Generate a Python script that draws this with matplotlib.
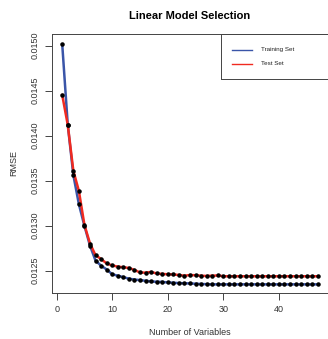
import numpy as np
import matplotlib
matplotlib.use('Agg')
import matplotlib.pyplot as plt
from matplotlib.patches import Rectangle
from matplotlib.lines import Line2D

plt.rcParams['font.family'] = ['Liberation Sans', 'DejaVu Sans']

n_vars = list(range(1, 48))

train_rmse = [0.015016, 0.014119, 0.013563, 0.013238, 0.012997, 0.012778, 0.012611,
              0.012556, 0.012513, 0.012460, 0.012444, 0.012428, 0.012411, 0.012402,
              0.012395, 0.012388, 0.012380, 0.012377, 0.012375, 0.012369, 0.012366,
              0.012362, 0.012360, 0.012358, 0.012355, 0.012352, 0.012350] + [0.012348] * 20

test_rmse = [0.014452, 0.014119, 0.013611, 0.013386, 0.013008, 0.012802, 0.012671,
             0.012630, 0.012580, 0.012558, 0.012545, 0.012538, 0.012530, 0.012508,
             0.012480, 0.012478, 0.012486, 0.012469, 0.012464, 0.012460, 0.012458,
             0.012452, 0.012444, 0.012452, 0.012449, 0.012444, 0.012441, 0.012444,
             0.012447] + [0.012438] * 18

x_ticks = [0, 10, 20, 30, 40]
y_ticks = [0.0125, 0.0130, 0.0135, 0.0140, 0.0145, 0.0150]

W, H = 328, 339
train_col = '#3a55a8'
test_col = '#f02a20'

fig = plt.figure(figsize=(W / 100, H / 100), dpi=100)
ax = fig.add_axes([52 / W, 1 - 293 / H, 276 / W, 259 / H])

ax.plot(n_vars, train_rmse, color=train_col, lw=1.8, zorder=2)
ax.plot(n_vars, test_rmse, color=test_col, lw=1.8, zorder=2)
ax.scatter(n_vars, train_rmse, s=5, color='black', zorder=3)
ax.scatter(n_vars, test_rmse, s=5, color='black', zorder=3)

ax.set_xlim(-0.84, 48.84)
ax.set_ylim(0.012252, 0.01513)
ax.set_xticks(x_ticks)
ax.set_yticks(y_ticks)
ax.set_yticklabels(['%.4f' % v for v in y_ticks], rotation=90, va='center')
ax.tick_params(length=5, width=0.7, labelsize=6.5, pad=4, colors='#444444', labelcolor='#333333')
ax.spines['right'].set_visible(False)
for s in ['left', 'top', 'bottom']:
    ax.spines[s].set_linewidth(0.7)
    ax.spines[s].set_color('#444444')

ax.set_xlabel('Number of Variables', fontsize=6.5, color='#333333', labelpad=10)
ax.set_ylabel('RMSE', fontsize=6.5, color='#333333', labelpad=9)
ax.set_title('Linear Model Selection', fontsize=8, fontweight='bold', pad=11)

# legend box drawn by hand, in figure pixels (like R's legend at the top right)
def fx(px):
    return px / W

def fy(py):
    return 1 - py / H

fig.patches.append(Rectangle((fx(221), fy(79)), fx(110), 45 / H, transform=fig.transFigure,
                             fill=False, edgecolor='#444444', lw=0.7))
for py, col, lab in [(50, train_col, 'Training Set'), (63.5, test_col, 'Test Set')]:
    fig.lines.append(Line2D([fx(232), fx(252)], [fy(py), fy(py)], transform=fig.transFigure,
                            color=col, lw=1.0))
    fig.text(fx(261), fy(py), lab, fontsize=4.5, va='center', ha='left', color='#222222')

fig.savefig('out.png', dpi=100)
